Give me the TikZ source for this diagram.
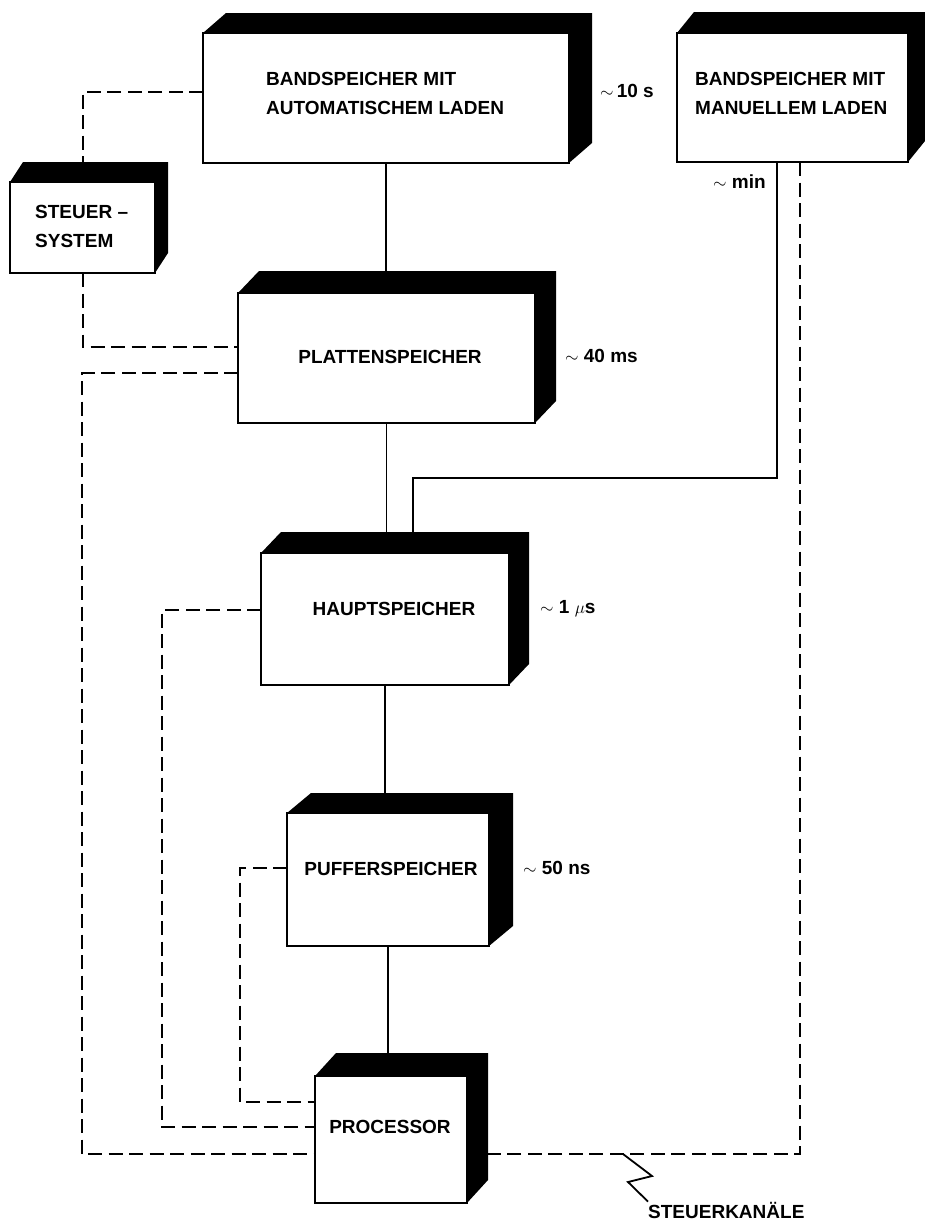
\documentclass[tikz,border=0pt]{standalone}
\usepackage{fontspec}
\setmainfont{Liberation Sans}
\usetikzlibrary{calc}
\tikzset{
 front/.style={draw, fill=white, line width=2pt, inner sep=0pt, outer sep=0pt},
 backface/.style={inner sep=0pt, outer sep=0pt, draw=none},
 txt/.style={font=\fontsize{19}{29}\selectfont\bfseries, align=left, inner sep=0pt},
 lbl/.style={font=\fontsize{19}{22}\selectfont\bfseries, anchor=west, inner sep=0pt},
 conn/.style={line width=1.8pt},
 ctl/.style={line width=2pt, dash pattern=on 14pt off 6.5pt},
}
\newcommand\memblock[7]{%
 \node[front, minimum width={(#4-#2)*1pt}, minimum height={(#5-#3)*1pt}] (#1) at ({(#2+#4)/2},{(#3+#5)/2}) {};
 \node[backface, minimum width={(#4-#2)*1pt}, minimum height={(#5-#3)*1pt}] (#1-b) at ({(#2+#4)/2+#6},{(#3+#5)/2-#7}) {};
 \fill (#1.north west) -- (#1-b.north west) -- (#1-b.north east) -- (#1-b.south east) -- (#1.south east) -- (#1.north east) -- cycle;
}
\begin{document}
\begin{tikzpicture}[x=1pt,y=-1pt]
\useasboundingbox (0,0) rectangle (925,1221);
% blocks
\memblock{auto}{203}{33}{569}{163}{23}{20}
\memblock{manu}{677}{33}{908}{162}{17}{21}
\memblock{steuer}{10}{182}{155}{273}{13}{20}
\memblock{platten}{238}{293}{535}{423}{21}{22}
\memblock{haupt}{261}{553}{509}{685}{20}{21}
\memblock{puffer}{287}{813}{489}{946}{24}{20}
\memblock{proc}{315}{1076}{467}{1203}{21}{23}
% texts
\node[txt, anchor=west] (autot) at (266,93) {BANDSPEICHER MIT\\AUTOMATISCHEM LADEN};
\node[txt, anchor=west] (manut) at (695,93) {BANDSPEICHER MIT\\MANUELLEM LADEN};
\node[txt, anchor=west] (steuert) at (35,226) {STEUER –\\SYSTEM};
\node[txt] (plattent) at (390,357) {PLATTENSPEICHER};
\node[txt] (hauptt) at (394,609) {HAUPTSPEICHER};
\node[txt] (puffert) at (391,869) {PUFFERSPEICHER};
\node[txt] (proct) at (390,1127) {PROCESSOR};
% access times
\node[lbl] (l1) at (600,91) {$\sim$\,10 s};
\node[lbl] (l2) at (713,182) {$\sim$ min};
\node[lbl] (l3) at (565,356) {$\sim$ 40 ms};
\node[lbl] (l4) at (540,609) {$\sim$ 1 $\mu$s};
\node[lbl] (l5) at (523,868) {$\sim$ 50 ns};
% data paths
\draw[conn] (auto.south) -- (auto.south |- platten-b.north);
\draw[conn] (platten.south) -- (platten.south |- haupt-b.north);
\draw[conn] (haupt.south) -- (haupt.south |- puffer-b.north);
\draw[conn] (puffer.south) -- (puffer.south |- proc-b.north);
\coordinate (mb) at (413,478);
\draw[conn] ([xshift=-15.5pt]manu.south) |- (mb) -- (mb |- haupt-b.north);
% control paths
\coordinate (k1) at (82,1154);
\coordinate (k2) at (162,1127);
\coordinate (k3) at (240,1102);
\draw[ctl] ([xshift=7.5pt]manu.south) |- (k1 -| proc-b.east);
\draw[ctl] ([yshift=6pt]auto.west) -| (steuer.north |- steuer-b.north);
\draw[ctl] (steuer.south) |- ([yshift=11pt]platten.west);
\draw[ctl] ([yshift=-15pt]platten.west) -| (k1) -- (k1 -| proc.west);
\draw[ctl] ([yshift=9pt]haupt.west) -| (k2) -- (k2 -| proc.west);
\draw[ctl] ([yshift=11.5pt]puffer.west) -| (k3) -- (k3 -| proc.west);
% Steuerkanaele label
\node[lbl] (skl) at (648,1210) {STEUERKANÄLE};
\coordinate (z0) at (623,1154);
\draw[conn] (z0) -- ++(29,22) -- ++(-24,6) -- (skl.north west);
\end{tikzpicture}
\end{document}
